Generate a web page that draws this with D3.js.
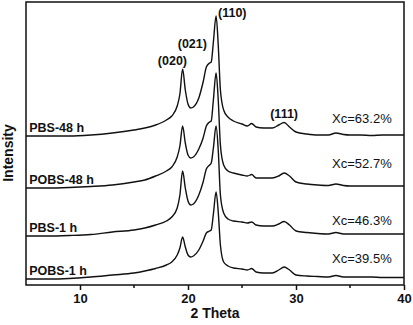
<!DOCTYPE html>
<html>
<head>
<meta charset="utf-8">
<script src="https://cdn.jsdelivr.net/npm/d3@7"></script>
<style>
body{margin:0;background:#fff}
text{font-family:Arial,'Liberation Sans',sans-serif;fill:#111}
</style>
</head>
<body>
<div id="graph"></div>
<script>
// 2 theta sample points (deg), denser around the peaks
var theta = [5, 7, 9, 11, 13, 15, 16, 17, 18, 18.5,
  19, 19.25, 19.5, 19.75, 20, 20.25, 20.5, 21, 21.4, 21.7,
  22.0, 22.15, 22.35, 22.6, 22.8, 23.0, 23.3, 23.7, 24.2, 25,
  25.5, 25.9, 26.3, 27, 27.8, 28.4, 28.9, 29.4, 30, 31,
  32, 33, 33.7, 34.4, 35, 36, 37, 38, 39, 40]

// stacked intensities (a.u., offsets included)
var pbs48 = [149, 149, 149, 150, 152, 155, 157, 160, 165, 169,
  179, 191, 216, 195, 181, 177, 178, 187, 203, 218,
  222, 223, 243, 269, 240, 195, 175, 168, 164, 161,
  159, 161.5, 158, 157, 157, 160, 162.5, 158, 153, 151,
  150, 150, 152, 150.5, 150, 150, 149.5, 150, 150, 150]
var pobs48 = [97, 97, 97.5, 98.5, 100, 103, 105, 109, 114, 118,
  128, 139, 159, 142, 130, 127, 128, 136, 147, 159,
  163, 164, 185, 212, 185, 140, 120, 114, 112, 110,
  109, 110.5, 107, 107, 107, 109, 112, 109, 103, 101,
  100, 99.5, 101, 99.5, 99, 99, 99, 99, 99, 99]
var pbs1 = [49, 49, 49.5, 50.5, 53, 55, 57, 60, 64, 68,
  77, 90, 114, 97, 84, 80, 81, 90, 103, 116,
  120, 122, 137, 159, 135, 90, 72, 66, 64, 63,
  62, 63, 60, 59, 59, 61, 63.5, 60, 54, 52.5,
  51.5, 51, 52.5, 51, 51, 51, 51, 51, 51, 51]
var pobs1 = [6, 6, 6.5, 8, 10, 12, 14, 16.5, 20, 23,
  30, 37, 48, 38, 30, 28, 29, 35, 44, 52,
  54, 55, 71, 93, 73, 40, 23, 19, 17, 16,
  15, 16.5, 13, 12, 12, 15, 18, 15, 10, 9,
  8.5, 8, 9.5, 8, 8, 8, 8, 7.5, 7.5, 7.5]

var sampleNames = ['PBS-48 h', 'POBS-48 h', 'PBS-1 h', 'POBS-1 h']
var xcLabels = ['Xc=63.2%', 'Xc=52.7%', 'Xc=46.3%', 'Xc=39.5%']
var xcIntensity = [162, 117, 60, 22]

var peakLabels = ['(020)', '(021)', '(110)', '(111)']
var peakTheta = [18.56, 20.4, 22.78, 28.9]
var peakIntensity = [220, 237, 268, 167]

var xTicks = [10, 20, 30, 40]
var xMinor = [15, 25, 35]

var margin = {left: 26, right: 9, top: 2, bottom: 40}
var totalW = 413, totalH = 325
var width = totalW - margin.left - margin.right
var height = totalH - margin.top - margin.bottom

var svg = d3.select('#graph').append('svg')
  .attr('width', totalW).attr('height', totalH)
var g = svg.append('g')
  .attr('transform', `translate(${margin.left},${margin.top})`)

var x = d3.scaleLinear().domain([5, 40]).range([0, width])
var y = d3.scaleLinear().domain([0, height]).range([height, 0])

var line = d3.line()
  .x((d, i) => x(theta[i]))
  .y(d => y(d))
  .curve(d3.curveMonotoneX)

var series = [pbs48, pobs48, pbs1, pobs1]

g.selectAll('path.xrd').data(series).enter().append('path')
  .attr('class', 'xrd')
  .attr('d', line)
  .attr('fill', 'none')
  .attr('stroke', '#111')
  .attr('stroke-width', 1.4)
  .attr('stroke-linejoin', 'round')

// frame
g.append('rect')
  .attr('width', width).attr('height', height)
  .attr('fill', 'none').attr('stroke', '#111').attr('stroke-width', 1.5)

var xAxis = d3.axisBottom(x).tickValues(xTicks).tickSize(5).tickPadding(4)
var axG = g.append('g').attr('transform', `translate(0,${height})`).call(xAxis)
axG.select('.domain').remove()
axG.selectAll('line').attr('stroke', '#111').attr('stroke-width', 1.5)
axG.selectAll('text')
  .style('font-size', '13px').style('font-weight', 'bold')
  .attr('fill', '#111')

g.append('g').selectAll('line').data(xMinor).enter().append('line')
  .attr('x1', d => x(d)).attr('x2', d => x(d))
  .attr('y1', height).attr('y2', height + 3)
  .attr('stroke', '#111').attr('stroke-width', 1.5)

g.append('text')
  .attr('x', width / 2).attr('y', height + 33)
  .attr('text-anchor', 'middle')
  .style('font-size', '14px').style('font-weight', 'bold')
  .text('2 Theta')

svg.append('text')
  .attr('transform', `translate(13,${margin.top + 151}) rotate(-90)`)
  .attr('text-anchor', 'middle')
  .style('font-size', '14px').style('font-weight', 'bold')
  .text('Intensity')

// sample names sit on each curve's left baseline
g.selectAll('text.name').data(series).enter().append('text')
  .attr('class', 'name')
  .attr('x', x(5.3))
  .attr('y', d => y(d[0]) - 4.5)
  .style('font-size', '12.5px').style('font-weight', 'bold')
  .text((d, i) => sampleNames[i])

g.selectAll('text.xc').data(xcLabels).enter().append('text')
  .attr('class', 'xc')
  .attr('x', x(36.1))
  .attr('y', (d, i) => y(xcIntensity[i]))
  .attr('text-anchor', 'middle')
  .style('font-size', '13px')
  .text(d => d)

g.selectAll('text.peak').data(peakLabels).enter().append('text')
  .attr('class', 'peak')
  .attr('x', (d, i) => x(peakTheta[i]))
  .attr('y', (d, i) => y(peakIntensity[i]))
  .attr('text-anchor', (d, i) => i == 2 ? 'start' : 'middle')
  .style('font-size', '12.5px').style('font-weight', 'bold')
  .text(d => d)
</script>
</body>
</html>
